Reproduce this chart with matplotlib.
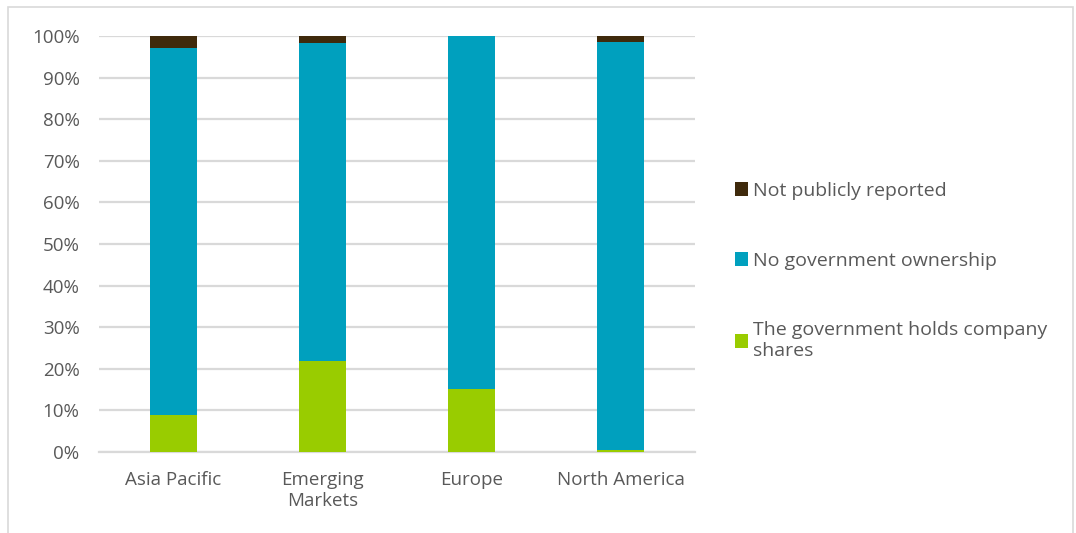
import matplotlib.pyplot as plt
from matplotlib.patches import Rectangle, Patch
import numpy as np

regions = ['Asia Pacific', 'Emerging\nMarkets', 'Europe', 'North America']
gov_holds = [8.8, 21.9, 15.1, 0.5]
no_gov = [88.3, 76.4, 84.9, 98.1]
not_reported = [2.9, 1.7, 0.0, 1.4]

series_labels = ['The government holds company\nshares', 'No government ownership', 'Not publicly reported']
colors = ['#99cc00', '#00a0be', '#3f2a0c']

plt.rcParams['font.family'] = ['Open Sans', 'DejaVu Sans']
text_color = '#595959'
grid_color = '#d9d9d9'

fig = plt.figure(figsize=(10.76, 5.33), dpi=100)
ax = fig.add_axes([99 / 1076, 81 / 533, 596 / 1076, 416 / 533])

x = np.arange(len(regions))
bottom = np.zeros(len(regions))
for vals, col in zip([gov_holds, no_gov, not_reported], colors):
    ax.bar(x, vals, width=0.315, bottom=bottom, color=col, zorder=3)
    bottom += np.array(vals)

ax.set_xlim(-0.5, 3.5)
ax.set_ylim(0, 100)
ax.set_yticks(np.arange(0, 101, 10))
ax.set_yticklabels(['%d%%' % v for v in range(0, 101, 10)])
ax.set_xticks(x)
ax.set_xticklabels(regions)
ax.yaxis.grid(True, color=grid_color, linewidth=1.6, zorder=0)
for s in ['top', 'right', 'left']:
    ax.spines[s].set_visible(False)
ax.spines['bottom'].set_color(grid_color)
ax.spines['bottom'].set_linewidth(1.6)
ax.tick_params(axis='both', length=0, labelsize=13.5, colors=text_color)
ax.tick_params(axis='y', pad=14)
ax.tick_params(axis='x', pad=14)

handles = [Patch(facecolor=c) for c in colors]
leg = fig.legend(handles[::-1], series_labels[::-1], loc='center left',
                 bbox_to_anchor=(717 / 1076, 262 / 533), frameon=False,
                 fontsize=14, labelcolor=text_color, handlelength=0.7,
                 handleheight=0.7, handletextpad=0.25, labelspacing=2.66)

# outer chart border
fig.patches.append(Rectangle((8 / 1076, -0.05), 1065 / 1076, 1 - 7 / 533 + 0.05,
                             transform=fig.transFigure, fill=False,
                             edgecolor=grid_color, linewidth=1.2))

fig.savefig('out.png', dpi=100)
